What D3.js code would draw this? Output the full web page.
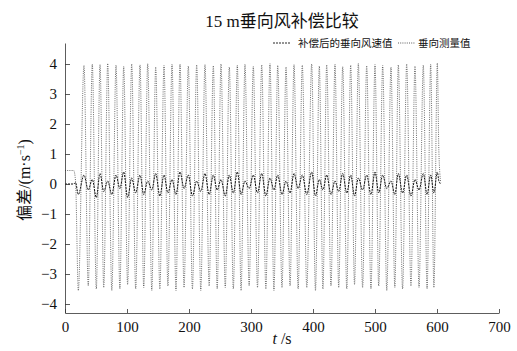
<!DOCTYPE html>
<html>
<head>
<meta charset="utf-8">
<script src="https://cdn.jsdelivr.net/npm/d3@7"></script>
<style>
  body { margin: 0; background: #fff; }
  svg { display: block; }
  .chart text { font-family: 'Liberation Serif', 'Noto Sans CJK SC', serif; fill: #111; }
</style>
</head>
<body>
<div class="graph"></div>
<script>
var leadT = [0, 14, 17];
var leadV = [0.45, 0.45, 0.1];
var peakT = [30.6, 44.0, 56.5, 68.9, 82.3, 94.7, 107.6, 121.0, 133.4, 146.3, 159.7, 172.6, 185.5, 198.9, 212.4,
  225.8, 239.2, 251.6, 265.0, 277.9, 290.3, 303.7, 317.3, 330.6, 343.1, 356.5, 369.4, 382.7, 397.9, 410.2,
  422.1, 435.5, 447.9, 460.8, 473.1, 486.6, 500.0, 512.4, 525.8, 537.6, 551.1, 564.5, 577.9, 589.8, 600.5];
var peakV = [3.95, 4.0, 3.98, 4.02, 3.96, 3.92, 4.0, 3.97, 4.01, 3.9, 3.95, 3.99, 4.0, 3.93, 3.97,
  3.98, 3.94, 4.0, 3.9, 3.96, 3.99, 3.92, 3.97, 4.01, 3.95, 3.9, 3.98, 3.96, 4.0, 3.93,
  3.97, 3.99, 3.91, 3.96, 4.02, 3.94, 3.98, 3.95, 3.9, 3.97, 4.0, 3.93, 3.96, 3.99, 4.03];
var troughT = [21.5, 37.5, 50.5, 62.5, 75.5, 88.5, 101.0, 114.0, 127.0, 140.0, 153.0, 166.0, 179.0, 192.0, 205.5,
  219.0, 232.5, 245.5, 258.5, 271.5, 284.0, 297.0, 310.5, 324.0, 337.0, 350.0, 363.0, 376.0, 390.0, 404.0,
  416.0, 429.0, 441.5, 454.5, 467.0, 480.0, 493.5, 506.0, 519.0, 532.0, 544.5, 558.0, 571.0, 584.0, 595.0];
var troughV = [-3.55, -3.4, -3.5, -3.45, -3.55, -3.5, -3.35, -3.5, -3.45, -3.55, -3.5, -3.4, -3.55, -3.45, -3.5,
  -3.55, -3.4, -3.5, -3.45, -3.5, -3.55, -3.4, -3.45, -3.5, -3.55, -3.45, -3.4, -3.5, -3.45, -3.55,
  -3.5, -3.4, -3.45, -3.5, -3.35, -3.45, -3.5, -3.4, -3.55, -3.45, -3.5, -3.4, -3.45, -3.5, -3.45];
var tailT = [603, 606];
var tailV = [1.1, 0.05];

// compensated signal, same turning times, small swings around 0
var compLeadV = [0.0, 0.0, 0.05];
var compPeakV = [0.3, 0.15, 0.35, 0.1, 0.3, 0.4, 0.2, 0.3, 0.1, 0.35, 0.3, 0.15, 0.4, 0.3, 0.1,
  0.35, 0.3, 0.15, 0.3, 0.4, 0.1, 0.3, 0.35, 0.2, 0.3, 0.1, 0.35, 0.3, 0.4, 0.15,
  0.3, 0.1, 0.35, 0.3, 0.2, 0.3, 0.4, 0.3, 0.1, 0.35, 0.3, 0.15, 0.35, 0.3, 0.4];
var compTroughV = [-0.35, -0.2, -0.45, -0.25, -0.35, -0.15, -0.45, -0.3, -0.35, -0.2, -0.4, -0.3, -0.35, -0.15, -0.4,
  -0.25, -0.35, -0.2, -0.4, -0.3, -0.35, -0.15, -0.3, -0.4, -0.2, -0.35, -0.3, -0.15, -0.35, -0.4,
  -0.2, -0.35, -0.25, -0.3, -0.4, -0.2, -0.35, -0.3, -0.15, -0.35, -0.3, -0.4, -0.2, -0.35, -0.3];
var compTailV = [0.1, 0.0];

var xTicks = [0, 100, 200, 300, 400, 500, 600, 700];
var yTicks = [-4, -3, -2, -1, 0, 1, 2, 3, 4];
var seriesNames = ['补偿后的垂向风速值', '垂向测量值'];

var width = 517, height = 351;
var x = d3.scaleLinear().domain([0, 700]).range([65, 499]);
var y = d3.scaleLinear().domain([-4.3, 4.7]).range([313, 43]);

function build(lv, pv, tv, ev) {
  var pts = [];
  leadT.forEach(function (t, i) { pts.push([t, lv[i]]); });
  peakT.forEach(function (t, i) { pts.push([t, pv[i]]); });
  troughT.forEach(function (t, i) { pts.push([t, tv[i]]); });
  tailT.forEach(function (t, i) { pts.push([t, ev[i]]); });
  pts.sort(function (a, b) { return a[0] - b[0]; });
  return pts;
}
var measured = build(leadV, peakV, troughV, tailV);
var compensated = build(compLeadV, compPeakV, compTroughV, compTailV);

var svg = d3.select('.graph').append('svg')
  .attr('class', 'chart')
  .attr('width', width)
  .attr('height', height);

var line = d3.line()
  .curve(d3.curveMonotoneX)
  .x(function (d) { return x(d[0]); })
  .y(function (d) { return y(d[1]); });

svg.append('path')
  .datum(measured)
  .attr('d', line)
  .style('fill', 'none')
  .style('stroke', '#4a4a4a')
  .style('stroke-width', 0.8)
  .style('stroke-dasharray', '1,1.2');

svg.append('path')
  .datum(compensated)
  .attr('d', line)
  .style('fill', 'none')
  .style('stroke', '#111')
  .style('stroke-width', 1)
  .style('stroke-dasharray', '2,1');

// axes
var xAxis = svg.append('g')
  .attr('transform', 'translate(0,313)')
  .call(d3.axisBottom(x).tickValues(xTicks).tickSizeInner(-4).tickSizeOuter(0).tickPadding(8));
var yAxis = svg.append('g')
  .attr('transform', 'translate(65,0)')
  .call(d3.axisLeft(y).tickValues(yTicks).tickSizeInner(-5).tickSizeOuter(0).tickPadding(8)
    .tickFormat(function (d) { return d < 0 ? '\u2212' + Math.abs(d) : d; }));

[xAxis, yAxis].forEach(function (a) {
  a.selectAll('path, line').style('stroke', '#333').style('stroke-width', 0.8);
  a.selectAll('text').style('font-size', '15px').style('font-family', "'Liberation Serif', serif");
});
xAxis.selectAll('text').attr('dy', '0.75em');

// title
svg.append('text')
  .attr('x', 282).attr('y', 27)
  .attr('text-anchor', 'middle')
  .style('font-size', '17px')
  .text('15 m垂向风补偿比较');

// axis titles
var xt = svg.append('text')
  .attr('x', 282).attr('y', 344)
  .attr('text-anchor', 'middle')
  .style('font-size', '16px');
xt.append('tspan').style('font-style', 'italic').text('t');
xt.append('tspan').text(' /s');

var yt = svg.append('text')
  .attr('text-anchor', 'middle')
  .attr('transform', 'translate(30,180)rotate(-90)')
  .style('font-size', '16px');
yt.append('tspan').text('偏差/(m·s');
yt.append('tspan').attr('dy', -6).style('font-size', '10px').text('\u22121');
yt.append('tspan').attr('dy', 6).text(')');

// legend
var legend = [
  { name: seriesNames[0], x0: 273, x1: 290, tx: 298, color: '#111', dash: '2,1' },
  { name: seriesNames[1], x0: 398, x1: 415, tx: 418, color: '#4a4a4a', dash: '1,1.2' }
];
legend.forEach(function (l) {
  svg.append('line')
    .attr('x1', l.x0).attr('x2', l.x1).attr('y1', 43).attr('y2', 43)
    .style('stroke', l.color).style('stroke-width', 0.9).style('stroke-dasharray', l.dash);
  svg.append('text')
    .attr('x', l.tx).attr('y', 47)
    .style('font-size', '10.5px')
    .text(l.name);
});
</script>
</body>
</html>
